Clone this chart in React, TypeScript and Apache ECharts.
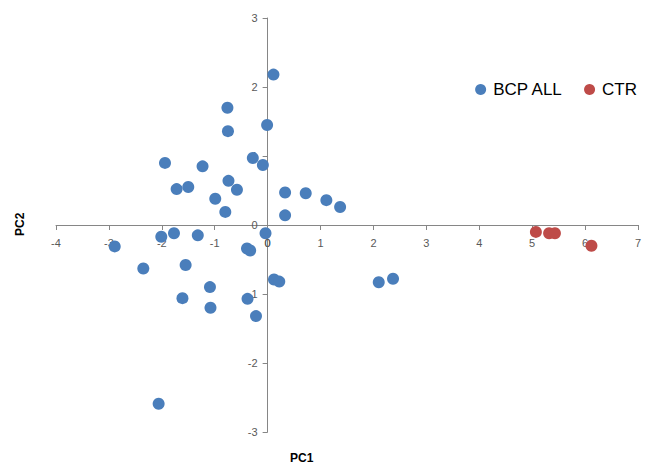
import React, { useEffect, useRef } from "react";
import * as echarts from "echarts";

const bcpAllX = [0.11, -0.76, -0.01, -0.75, -1.94, -1.23, -0.28, -0.09, -1.72, -1.5, -0.74, -0.58, -0.99, -0.8, 0.33, 0.72, 1.11, 1.37, 0.33, -2.01, -1.77, -1.32, -0.04, -2.89, -0.39, -0.33, -2.35, -1.55, -1.09, -1.61, -1.08, -0.38, -0.22, 0.12, 0.22, -2.06, 2.1, 2.37];
const bcpAllY = [2.18, 1.7, 1.45, 1.36, 0.9, 0.85, 0.97, 0.87, 0.52, 0.55, 0.64, 0.51, 0.38, 0.19, 0.47, 0.46, 0.36, 0.26, 0.14, -0.17, -0.12, -0.15, -0.12, -0.31, -0.34, -0.37, -0.63, -0.58, -0.9, -1.06, -1.2, -1.07, -1.32, -0.79, -0.82, -2.59, -0.83, -0.78];
const ctrX = [5.07, 5.32, 5.43, 6.12];
const ctrY = [-0.1, -0.12, -0.12, -0.3];
const seriesNames = ["BCP ALL", "CTR"];
const xLabel = "PC1";
const yLabel = "PC2";

const X_MIN = -4, X_MAX = 7, Y_MIN = -3, Y_MAX = 3;
const GRID = { left: 56, right: 8, top: 18, bottom: 33 };
const W = 646, H = 465;

export default function App() {
  const ref = useRef<HTMLDivElement>(null);
  useEffect(() => {
    if (!ref.current) return;
    const chart = echarts.init(ref.current, null, { renderer: "svg" });
    const axisColor = "#868686";
    const labelStyle = { color: "#595959", fontSize: 11, fontFamily: "Liberation Sans, Arial, sans-serif" };
    const gw = W - GRID.left - GRID.right;
    const gh = H - GRID.top - GRID.bottom;
    const yOffset = -((0 - X_MIN) / (X_MAX - X_MIN)) * gw;
    const xOffset = -((0 - Y_MIN) / (Y_MAX - Y_MIN)) * gh;
    chart.setOption({
      animation: false,
      backgroundColor: "#ffffff",
      grid: GRID,
      xAxis: {
        type: "value",
        min: X_MIN,
        max: X_MAX,
        interval: 1,
        position: "bottom",
        offset: xOffset,
        axisLine: { onZero: false, lineStyle: { color: axisColor, width: 1 } },
        axisTick: { show: true, length: 5, lineStyle: { color: axisColor } },
        axisLabel: { ...labelStyle, margin: 12, hideOverlap: false, showMinLabel: true, showMaxLabel: true },
        splitLine: { show: false },
      },
      yAxis: {
        type: "value",
        min: Y_MIN,
        max: Y_MAX,
        interval: 1,
        position: "left",
        offset: yOffset,
        axisLine: { onZero: false, lineStyle: { color: axisColor, width: 1 } },
        axisTick: { show: true, length: 5, lineStyle: { color: axisColor } },
        axisLabel: { ...labelStyle, margin: 10, hideOverlap: false, showMinLabel: true, showMaxLabel: true },
        splitLine: { show: false },
      },
      legend: {
        orient: "horizontal",
        right: 4,
        top: 76,
        itemWidth: 11,
        itemHeight: 11,
        itemGap: 21,
        icon: "circle",
        textStyle: { fontSize: 17, color: "#000000", fontFamily: "Liberation Sans, Arial, sans-serif", padding: [0, 0, 0, 2] },
        data: seriesNames,
      },
      graphic: [
        {
          id: "pc1",
          type: "text",
          left: 290,
          top: 452,
          style: { text: xLabel, font: "bold 12px Liberation Sans, Arial, sans-serif", fill: "#000000" },
        },
        {
          id: "pc2",
          type: "text",
          x: 14,
          y: 236,
          rotation: Math.PI / 2,
          style: { text: yLabel, font: "bold 12px Liberation Sans, Arial, sans-serif", fill: "#000000" },
        },
      ],
      series: [
        {
          name: seriesNames[0],
          type: "scatter",
          symbolSize: 12,
          z: 2,
          itemStyle: { color: "#4A7EBB", opacity: 1 },
          data: bcpAllX.map((x, i) => [x, bcpAllY[i]]),
        },
        {
          name: seriesNames[1],
          type: "scatter",
          symbolSize: 12,
          z: 2,
          itemStyle: { color: "#BE4B48", opacity: 1 },
          data: ctrX.map((x, i) => [x, ctrY[i]]),
        },
      ],
    });
    // x-axis "0" tick label at the axes' crossing, positioned through the chart's own scale
    const origin = chart.convertToPixel({ seriesIndex: 0 }, [0, 0]) as number[];
    if (origin && isFinite(origin[0]) && isFinite(origin[1])) {
      chart.setOption({
        graphic: [
          {
            id: "xzero",
            type: "text",
            x: origin[0],
            y: origin[1] + 12,
            z: 1,
            style: {
              text: "0",
              fontSize: 11,
              fontFamily: "Liberation Sans, Arial, sans-serif",
              fill: "#595959",
              align: "center",
              verticalAlign: "top",
            },
          },
        ],
      });
    }
    return () => chart.dispose();
  }, []);
  return <div ref={ref} style={{ width: W, height: H, position: "absolute", left: 0, top: 0 }} />;
}
